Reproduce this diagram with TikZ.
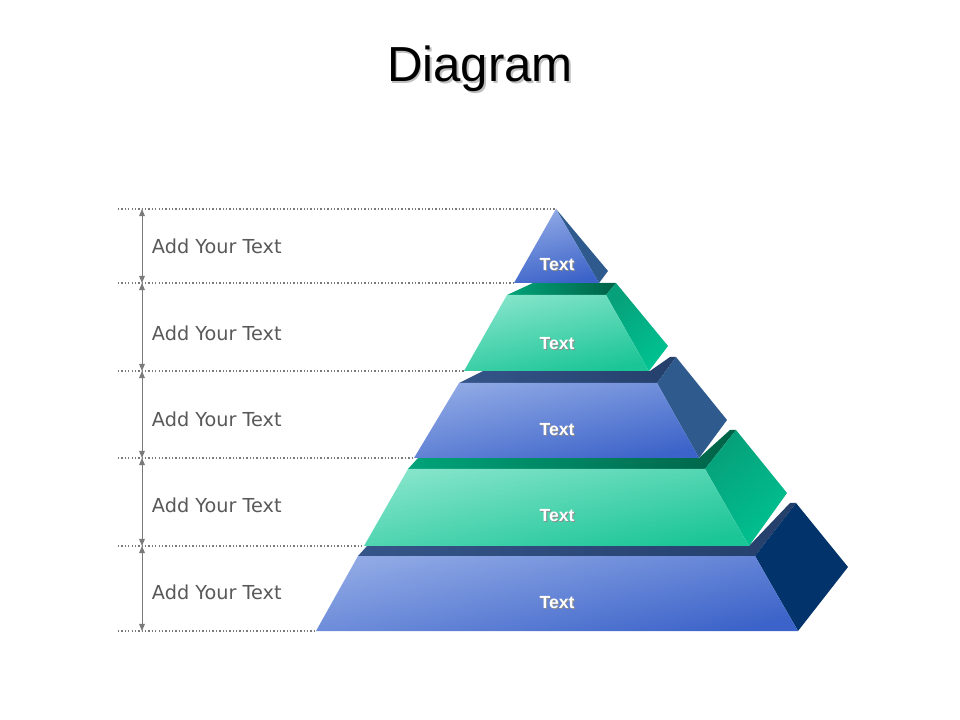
\documentclass[tikz,border=0pt]{standalone}
\usepackage{fontspec}
\setmainfont{Liberation Sans}
\newfontfamily\notefont{DejaVu Sans}
\usetikzlibrary{arrows.meta}

\definecolor{blueLight}{HTML}{90A9E5}
\definecolor{blueDark}{HTML}{3C63C9}
\definecolor{blueStripL}{HTML}{35558A}
\definecolor{blueStripR}{HTML}{243F6A}
\definecolor{blueSide}{HTML}{2E5A8D}
\definecolor{navySide}{HTML}{03336B}
\definecolor{greenLight}{HTML}{84E4CA}
\definecolor{greenDark}{HTML}{1AC596}
\definecolor{greenStripL}{HTML}{00A47A}
\definecolor{greenStripR}{HTML}{006247}
\definecolor{greenSideT}{HTML}{06A07A}
\definecolor{greenSideB}{HTML}{00C190}
\definecolor{guideGray}{HTML}{7A7A7A}
\definecolor{noteGray}{HTML}{595959}

% text with a soft drop shadow
\newcommand{\shadowed}[3]{\rlap{\kern#1\raisebox{-#1}{\color{#2}#3}}#3}

\tikzset{
    bluefront/.style={top color=blueLight, bottom color=blueDark, shading angle=12},
    greenfront/.style={top color=greenLight, bottom color=greenDark, shading angle=12},
    bluestrip/.style={left color=blueStripL, right color=blueStripR},
    greenstrip/.style={left color=greenStripL, right color=greenStripR},
    blueside/.style={fill=blueSide},
    navyside/.style={fill=navySide},
    greenside/.style={top color=greenSideT, bottom color=greenSideB, shading angle=40},
    guide/.style={guideGray, line width=0.9pt, dash pattern=on 0.9pt off 1.5pt},
    span/.style={guideGray, line width=0.7pt, {Triangle[length=5pt,width=4pt]}-{Triangle[length=5pt,width=4pt]}},
    note/.style={anchor=west, text=noteGray, font=\notefont\fontsize{13.7}{16}\selectfont},
    tag/.style={text=white, font=\bfseries\fontsize{12.5}{14}\selectfont},
    title/.style={anchor=base, font=\fontsize{35}{40}\selectfont}
}

\begin{document}
\begin{tikzpicture}[x=0.025cm, y=-0.025cm]
    \useasboundingbox[fill=white] (0,0) rectangle (960,720);

    % Title
    \node[title] (title) at (480,82) {\shadowed{1.3pt}{black!25}{Diagram}};

    % Guide lines and spans
    \foreach \i/\y/\x in {0/209/556, 1/283/514, 2/371/464, 3/458/414, 4/546/364, 5/631/316} {
        \coordinate (l\i) at (118,\y);
        \coordinate (r\i) at (\x,\y);
        \coordinate (g\i) at (142,\y);
        \draw[guide] (l\i) -- (r\i);
    }
    \foreach \i/\j in {0/1, 1/2, 2/3, 3/4, 4/5}
        \draw[span] (g\i) -- (g\j);

    \foreach \i/\y in {1/246, 2/333, 3/419, 4/505, 5/592}
        \node[note] (note\i) at (147,\y) {Add Your Text};

    % Layer 5 (bottom)
    \shade[bluestrip] (358,556) -- (367,546) -- (749,546) -- (790,503) -- (796,503) -- (755,556) -- cycle;
    \fill[navyside] (755,556) -- (796,503) -- (848,567) -- (798,631) -- cycle;
    \shade[bluefront] (358,556) -- (755,556) -- (798,631) -- (316,631) -- cycle;

    % Layer 4
    \shade[greenstrip] (408,469) -- (418,458) -- (699,458) -- (730,430) -- (736,430) -- (705,469) -- cycle;
    \shade[greenside] (705,469) -- (736,430) -- (787,493) -- (749,546) -- cycle;
    \shade[greenfront] (408,469) -- (705,469) -- (749,546) -- (364,546) -- cycle;

    % Layer 3
    \shade[bluestrip] (459,383) -- (483,371) -- (650,371) -- (670,357) -- (676,357) -- (657,383) -- cycle;
    \fill[blueside] (657,383) -- (676,357) -- (727,420) -- (699,458) -- cycle;
    \shade[bluefront] (459,383) -- (657,383) -- (699,458) -- (414,458) -- cycle;

    % Layer 2
    \shade[greenstrip] (507,295) -- (533,283) -- (616,283) -- (606,295) -- cycle;
    \shade[greenside] (606,295) -- (616,283) -- (668,346) -- (649,371) -- cycle;
    \shade[greenfront] (507,295) -- (606,295) -- (649,371) -- (464,371) -- cycle;

    % Layer 1 (apex)
    \fill[blueside] (556,209) -- (608,271) -- (599,283) -- cycle;
    \shade[bluefront] (556,209) -- (599,283) -- (514,283) -- cycle;

    % Layer labels
    \foreach \i/\y in {1/265, 2/344, 3/430, 4/516, 5/603}
        \node[tag] (tag\i) at (557,\y) {\shadowed{0.8pt}{black!45}{Text}};
\end{tikzpicture}
\end{document}
